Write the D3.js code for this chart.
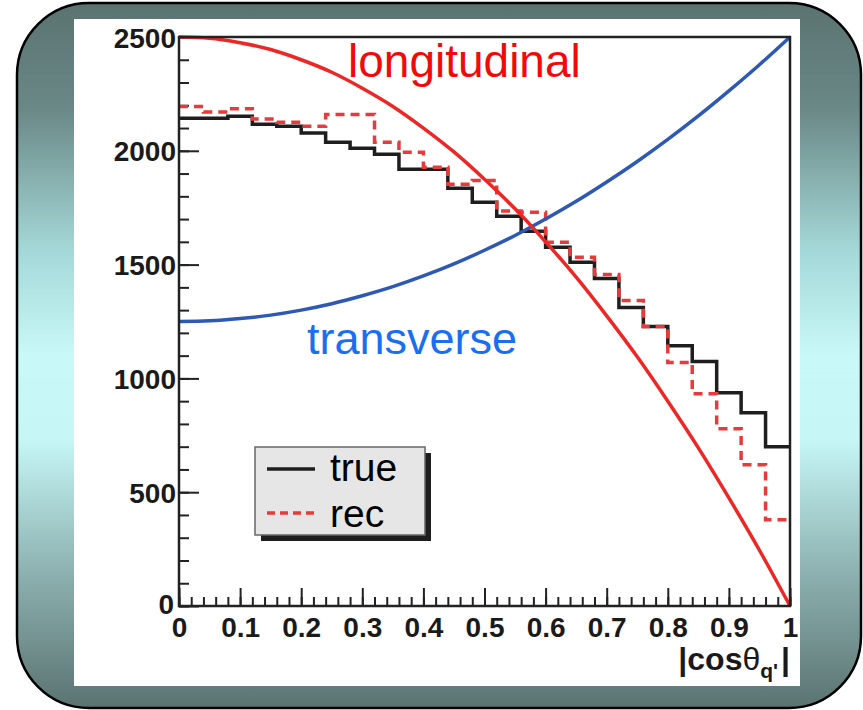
<!DOCTYPE html>
<html>
<head>
<meta charset="utf-8">
<script src="https://cdn.jsdelivr.net/npm/d3@7"></script>
<style>
  body { margin: 0; background: #fff; }
  svg { display: block; }
</style>
</head>
<body>
<div id="chart"></div>
<script>
// bins of width 0.04 over |cos theta|
var binWidth = 0.04;
var trueCounts = [2143, 2143, 2152, 2117, 2108, 2078, 2038, 2011, 1985, 1919, 1919, 1835, 1774,
                  1712, 1646, 1576, 1510, 1439, 1312, 1228, 1144, 1074, 937, 849, 700];
var recCounts  = [2195, 2170, 2185, 2140, 2125, 2108, 2160, 2160, 2038, 1994, 1928, 1853, 1870,
                  1735, 1730, 1598, 1532, 1457, 1342, 1228, 1070, 933, 779, 621, 379];

var curveX = [0, 0.05, 0.1, 0.15, 0.2, 0.25, 0.3, 0.35, 0.4, 0.45, 0.5,
              0.55, 0.6, 0.65, 0.7, 0.75, 0.8, 0.85, 0.9, 0.95, 1];
var longitudinal = [2500, 2495, 2475, 2445, 2400, 2345, 2275, 2195, 2100, 1995, 1875,
                    1745, 1600, 1445, 1275, 1095, 900, 695, 475, 245, 0];
var transverse = [1250, 1253, 1263, 1278, 1300, 1328, 1363, 1403, 1450, 1503, 1563,
                  1628, 1700, 1778, 1863, 1953, 2050, 2153, 2263, 2378, 2500];

var xTicks = [0, 0.1, 0.2, 0.3, 0.4, 0.5, 0.6, 0.7, 0.8, 0.9, 1];
var xTickLabels = ["0", "0.1", "0.2", "0.3", "0.4", "0.5", "0.6", "0.7", "0.8", "0.9", "1"];
var yTicks = [0, 500, 1000, 1500, 2000, 2500];

var W = 863, H = 710;
var font = "Liberation Sans, Arial, sans-serif";
var svg = d3.select("#chart").append("svg")
  .attr("width", W).attr("height", H);

// slide frame with vertical gradient
var defs = svg.append("defs");
var grad = defs.append("linearGradient")
  .attr("id", "bg").attr("x1", 0).attr("y1", 0).attr("x2", 0).attr("y2", 1);
[["0%", "#5a7371"], ["15%", "#6a8886"], ["35%", "#a4d8d8"], ["50%", "#c9f8f8"],
 ["62%", "#c6f6f6"], ["80%", "#8fb4b3"], ["100%", "#5a7371"]].forEach(function(s) {
  grad.append("stop").attr("offset", s[0]).attr("stop-color", s[1]);
});

svg.append("rect")
  .attr("x", 17).attr("y", 3).attr("width", 844).attr("height", 705)
  .attr("rx", 72).attr("ry", 72)
  .attr("fill", "url(#bg)")
  .attr("stroke", "#000").attr("stroke-width", 2.5);

svg.append("rect")
  .attr("x", 74).attr("y", 19).attr("width", 726).attr("height", 667)
  .attr("fill", "#fff");

var x = d3.scaleLinear().domain([0, 1]).range([179, 790]);
var y = d3.scaleLinear().domain([0, 2500]).range([606, 37]);

var g = svg.append("g");

// minor ticks
g.append("g")
  .attr("transform", "translate(" + x(0) + ",0)")
  .call(d3.axisLeft(y).tickValues(d3.range(0, 2501, 100)).tickSize(-10).tickFormat(""))
  .call(function(s) { s.select(".domain").remove(); s.selectAll("line").attr("stroke", "#222").attr("stroke-width", 2); });
g.append("g")
  .attr("transform", "translate(0," + y(0) + ")")
  .call(d3.axisBottom(x).tickValues(d3.range(0, 51).map(function(i) { return i / 50; })).tickSize(-9).tickFormat(""))
  .call(function(s) { s.select(".domain").remove(); s.selectAll("line").attr("stroke", "#222").attr("stroke-width", 2); });

// major ticks with labels
var yAxis = g.append("g")
  .attr("transform", "translate(" + x(0) + ",0)")
  .call(d3.axisLeft(y).tickValues(yTicks).tickSize(-20).tickPadding(3).tickFormat(d3.format("d")));
yAxis.select(".domain").remove();
yAxis.selectAll("line").attr("stroke", "#222").attr("stroke-width", 2);
yAxis.selectAll("text")
  .attr("font-family", font)
  .attr("font-weight", "bold").attr("font-size", 28).attr("fill", "#1a1a1a")
  .attr("dy", function(d) { return d === 0 ? "0.25em" : "0.36em"; })
  .attr("dx", function(d) { return d === 0 ? "-2" : "0"; });

var xAxis = g.append("g")
  .attr("transform", "translate(0," + y(0) + ")")
  .call(d3.axisBottom(x).tickValues(xTicks).tickSize(-18).tickPadding(2)
    .tickFormat(function(d, i) { return xTickLabels[i]; }));
xAxis.select(".domain").remove();
xAxis.selectAll("line").attr("stroke", "#222").attr("stroke-width", 2);
xAxis.selectAll("text")
  .attr("font-family", font)
  .attr("font-weight", "bold").attr("font-size", 28).attr("fill", "#1a1a1a")
  .attr("dy", "1.05em");

// histograms
var histLine = d3.line()
  .x(function(d) { return x(d[0]); })
  .y(function(d) { return y(d[1]); })
  .curve(d3.curveStepAfter);

function histPoints(counts) {
  var pts = counts.map(function(v, i) { return [i * binWidth, v]; });
  pts.push([1, counts[counts.length - 1]]);
  return pts;
}

g.append("path")
  .attr("d", histLine(histPoints(trueCounts)))
  .attr("fill", "none").attr("stroke", "#1e1e1e").attr("stroke-width", 3.5);

g.append("path")
  .attr("d", histLine(histPoints(recCounts)))
  .attr("fill", "none").attr("stroke", "#e83a3a").attr("stroke-width", 3.5)
  .attr("stroke-dasharray", "9,6");

// smooth curves
var smooth = d3.line()
  .x(function(d, i) { return x(curveX[i]); })
  .y(function(d) { return y(d); })
  .curve(d3.curveMonotoneX);

g.append("path")
  .attr("d", smooth(transverse))
  .attr("fill", "none").attr("stroke", "#2d58b4").attr("stroke-width", 3.5);

g.append("path")
  .attr("d", smooth(longitudinal))
  .attr("fill", "none").attr("stroke", "#ee2626").attr("stroke-width", 3.5);

// frame
g.append("rect")
  .attr("x", x(0)).attr("y", y(2500))
  .attr("width", x(1) - x(0)).attr("height", y(0) - y(2500))
  .attr("fill", "none").attr("stroke", "#222").attr("stroke-width", 2.5);

// curve labels
g.append("text")
  .attr("x", 348).attr("y", 77)
  .attr("font-family", font)
  .attr("font-size", 46).attr("fill", "#f00a0a")
  .text("longitudinal");

g.append("text")
  .attr("x", 307).attr("y", 354)
  .attr("font-family", font)
  .attr("font-size", 45).attr("fill", "#1a6ef0")
  .text("transverse");

// axis title
var xt = g.append("text")
  .attr("x", 790).attr("y", 670)
  .attr("text-anchor", "end")
  .attr("font-family", font)
  .attr("font-weight", "bold").attr("font-size", 32).attr("fill", "#1a1a1a");
xt.append("tspan").text("|cos");
xt.append("tspan").attr("font-weight", "normal").text("θ");
xt.append("tspan").attr("font-size", 21).attr("dy", 8).text("q'");
xt.append("tspan").attr("dy", -8).attr("dx", 3).text("|");

// legend
var leg = g.append("g");
leg.append("rect")
  .attr("x", 261).attr("y", 453).attr("width", 170).attr("height", 88)
  .attr("fill", "#1e1e1e");
leg.append("rect")
  .attr("x", 255).attr("y", 447).attr("width", 170).attr("height", 88)
  .attr("fill", "#e6e6e6").attr("stroke", "#666").attr("stroke-width", 1.5);
leg.append("line")
  .attr("x1", 267).attr("x2", 315).attr("y1", 469).attr("y2", 469)
  .attr("stroke", "#1e1e1e").attr("stroke-width", 3.5);
leg.append("line")
  .attr("x1", 267).attr("x2", 315).attr("y1", 513).attr("y2", 513)
  .attr("stroke", "#e83a3a").attr("stroke-width", 3.5).attr("stroke-dasharray", "8,5");
leg.append("text")
  .attr("x", 330).attr("y", 481)
  .attr("font-family", font)
  .attr("font-size", 39).attr("fill", "#000")
  .text("true");
leg.append("text")
  .attr("x", 330).attr("y", 527)
  .attr("font-family", font)
  .attr("font-size", 39).attr("fill", "#000")
  .text("rec");
</script>
</body>
</html>
